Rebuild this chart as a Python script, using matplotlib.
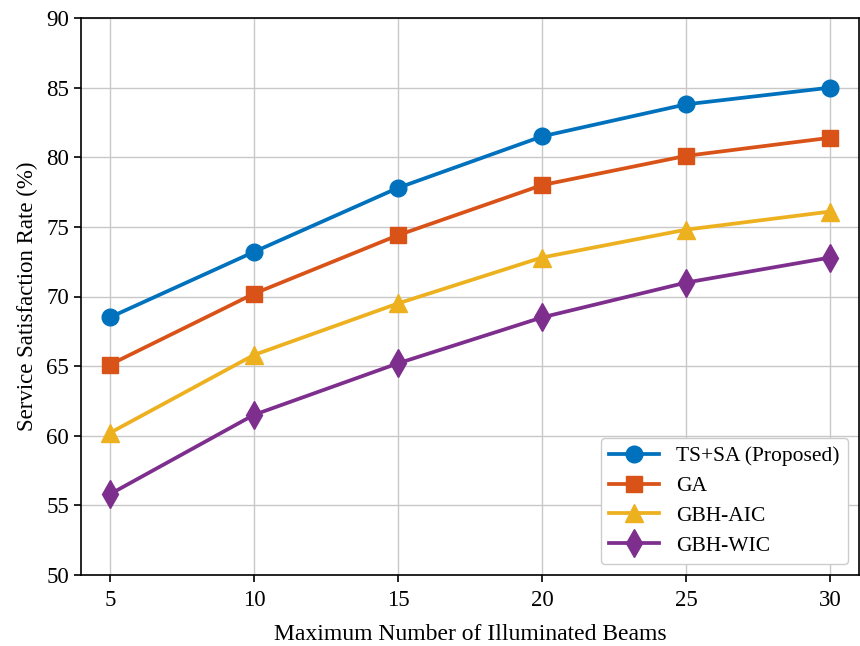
import matplotlib
matplotlib.use("Agg")
import matplotlib.pyplot as plt

beams = [5, 10, 15, 20, 25, 30]
ts_sa = [68.5, 73.2, 77.8, 81.5, 83.8, 85.0]
ga = [65.1, 70.2, 74.4, 78.0, 80.1, 81.4]
gbh_aic = [60.2, 65.8, 69.5, 72.8, 74.8, 76.1]
gbh_wic = [55.8, 61.5, 65.2, 68.5, 71.0, 72.8]
labels = ["TS+SA (Proposed)", "GA", "GBH-AIC", "GBH-WIC"]
yticks = [50, 55, 60, 65, 70, 75, 80, 85, 90]

plt.rcParams['font.family'] = ['Liberation Serif', 'DejaVu Serif']
plt.rcParams['mathtext.fontset'] = 'stix'

fig = plt.figure(figsize=(8.6, 6.46), dpi=100)
ax = fig.add_axes([81/860, 1-575/646, 778/860, 557/646])

series = [ts_sa, ga, gbh_aic, gbh_wic]
colors = ['#0072BD', '#D95319', '#EDB120', '#7E2F8E']
markers = ['o', 's', '^', 'd']
msizes = [12, 12, 13, 14]
for s, c, m, ms, lab in zip(series, colors, markers, msizes, labels):
    ax.plot(beams, s, color=c, marker=m, markersize=ms, linewidth=2.7, label=lab, zorder=3)

ax.set_xlim(4, 31)
ax.set_ylim(50, 90)
ax.set_xticks(beams)
ax.set_yticks(yticks)
ax.grid(True, color='#c8c8c8', linewidth=1.0)
ax.set_axisbelow(True)
ax.tick_params(labelsize=16.5, direction='out', length=5, width=1.2)
ax.tick_params(axis='x', pad=6)
for sp in ax.spines.values():
    sp.set_linewidth(1.2)
ax.set_xlabel("Maximum Number of Illuminated Beams", fontsize=17, labelpad=9)
ax.set_ylabel("Service Satisfaction Rate (%)", fontsize=16.5, labelpad=6)
ax.legend(loc='lower right', fontsize=15.5, framealpha=1, fancybox=True, handlelength=2.3,
          borderaxespad=0.5, labelspacing=0.45, borderpad=0.4)

fig.savefig("out.png", dpi=100)
